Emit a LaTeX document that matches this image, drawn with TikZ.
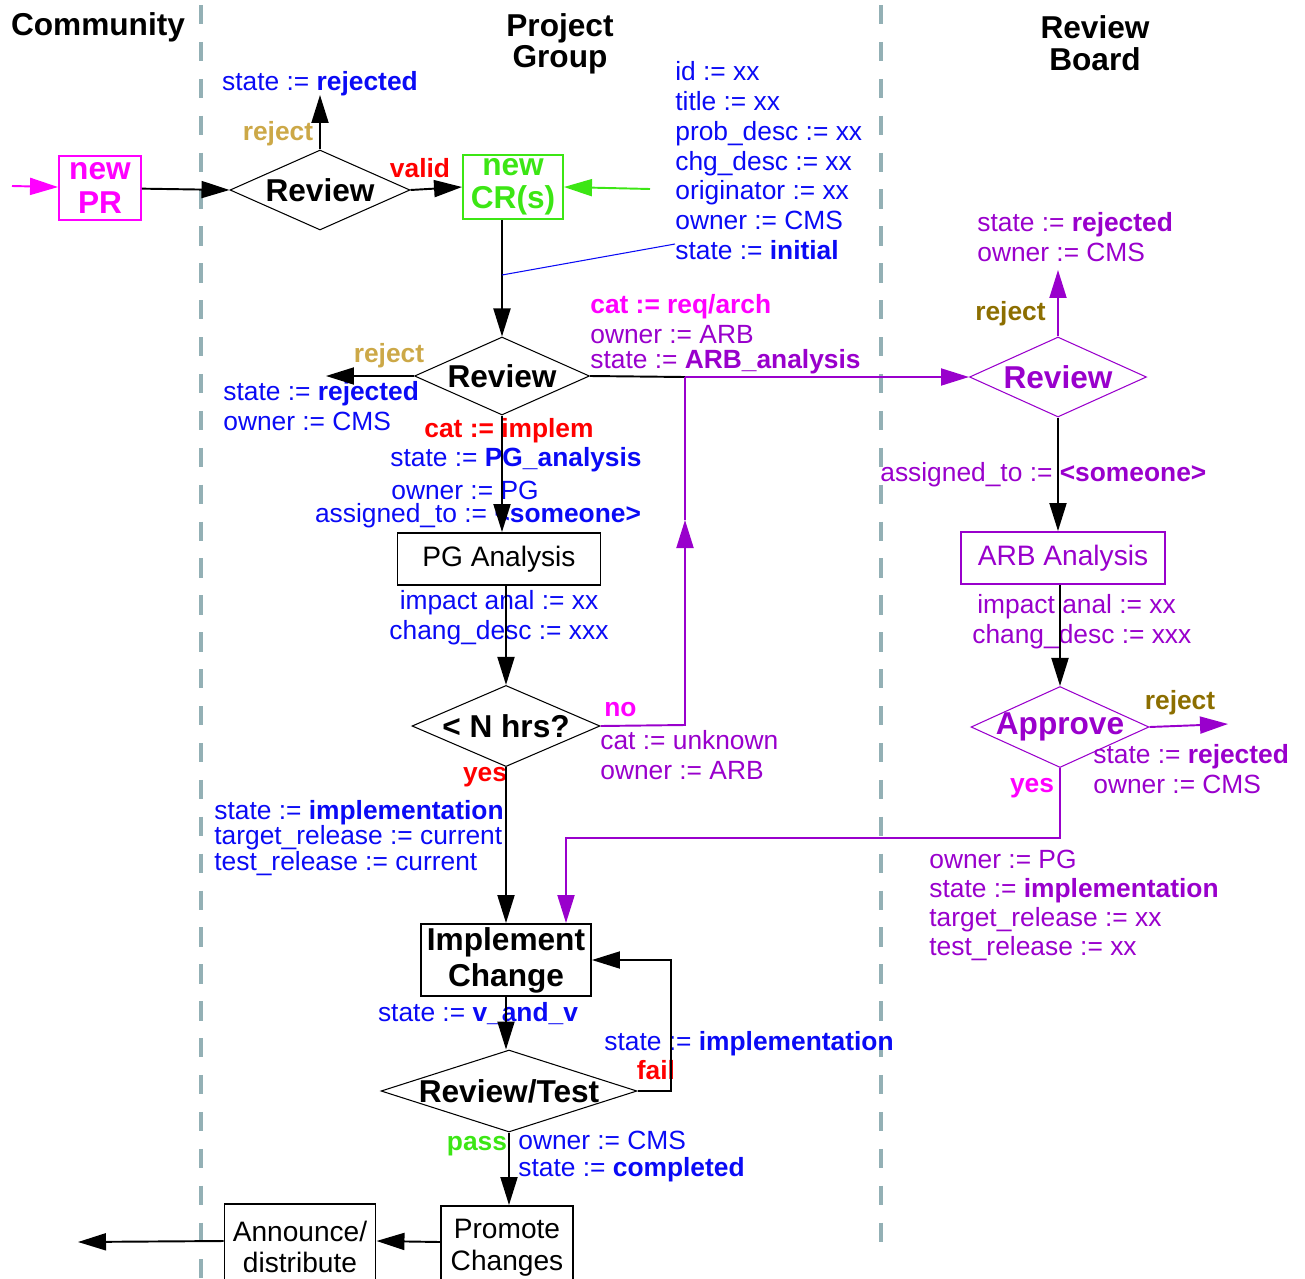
\documentclass[tikz,border=0pt]{standalone}
\usepackage{fontspec}
\setmainfont{Liberation Sans}
\usetikzlibrary{positioning, shapes.geometric, arrows.meta, calc}

\definecolor{purp}{RGB}{153,0,204}
\definecolor{prmag}{RGB}{255,0,255}
\definecolor{attrblue}{RGB}{10,10,245}
\definecolor{crgreen}{RGB}{60,230,20}
\definecolor{rejtan}{RGB}{204,168,71}
\definecolor{rejolive}{RGB}{140,110,0}
\definecolor{lanegray}{RGB}{147,176,181}

\tikzset{
  lane/.style={draw=lanegray, line width=2pt, dash pattern=on 11pt off 10pt},
  flow/.style={-{Triangle[length=0.56cm, width=0.34cm]}, line width=1.1pt},
  dec/.style={diamond, draw, line width=0.6pt, aspect=2.2, inner sep=0pt, font=\fontsize{18}{20}\selectfont\bfseries},
  box/.style={rectangle, draw, line width=1.1pt, inner sep=0pt, align=center, font=\fontsize{16}{18}\selectfont},
  head/.style={font=\fontsize{18}{20}\selectfont\bfseries, align=center, inner sep=0pt},
  lbl/.style={inner sep=0pt, font=\fontsize{15}{17}\selectfont},
  tag/.style={inner sep=0pt, font=\fontsize{15}{17}\selectfont\bfseries},
}

\begin{document}
\begin{tikzpicture}[x=0.02cm, y=-0.02cm]
  \useasboundingbox (0,0) rectangle (1305,1278);

  % Lanes
  \foreach \x/\e in {201/1278, 881/1245}
  \draw[lane] (\x,5) -- (\x,\e);
  \node[head] (comm) at (98,27) {Community};
  \node[head] (pgroup) at (560,44) {Project\\[-2pt]Group};
  \node[head] (rboard) at (1095,43) {Review\\[-2pt]Board};

  % Nodes
  \node[box, draw=prmag, text=prmag, minimum width=1.64cm, minimum height=1.28cm, font=\fontsize{18}{19}\selectfont\bfseries] (newpr) at (100,188) {new\\PR};
  \node[dec, minimum width=3.6cm, minimum height=1.6cm] (rev1) at (320,190) {Review};
  \node[box, draw=crgreen, text=crgreen, minimum width=2cm, minimum height=1.28cm, font=\fontsize{18}{19}\selectfont\bfseries] (newcr) at (513,187) {new\\CR(s)};
  \node[dec, minimum width=3.5cm, minimum height=1.56cm] (rev2) at (502,376) {Review};
  \node[box, minimum width=4.06cm, minimum height=1.04cm] (pga) at (499,559) {PG Analysis};
  \node[dec, minimum width=3.76cm, minimum height=1.54cm] (nhrs) at (506,726) {< N hrs?};
  \node[box, minimum width=3.4cm, minimum height=1.44cm, font=\fontsize{18}{20.5}\selectfont\bfseries] (impl) at (506,960) {Implement\\Change};
  \node[dec, aspect=3.1, minimum width=5.12cm, minimum height=1.64cm] (rt) at (509,1091) {Review/Test};
  \node[box, minimum width=2.64cm, minimum height=1.68cm] (promote) at (507,1248) {Promote\\Changes};
  \node[box, minimum width=3.02cm, minimum height=1.72cm] (announce) at (300,1247) {Announce/\\distribute};
  \node[dec, draw=purp, text=purp, minimum width=3.54cm, minimum height=1.6cm] (rev3) at (1058,377) {Review};
  \node[box, draw=purp, text=purp, minimum width=4.08cm, minimum height=1.04cm] (arb) at (1063,558) {ARB Analysis};
  \node[dec, draw=purp, text=purp, minimum width=3.56cm, minimum height=1.62cm] (approve) at (1060,727) {\makebox[0pt]{Approve}};

  % Labels
  \node[lbl, text=attrblue] (rej1) at (320,84) {state := \textbf{rejected}};
  \node[tag, text=rejtan] (rejl1) at (278,134) {reject};
  \node[tag, text=red] (valid) at (420,168) {valid};
  \node[lbl, text=attrblue, align=left, anchor=north west] (attrs) at (675,61) {id := xx\\title := xx\\prob\_desc := xx\\chg\_desc := xx\\originator := xx\\owner := CMS\\state := \textbf{initial}};
  \node[tag, text=rejtan] (rejl2) at (389,356) {reject};
  \node[lbl, text=attrblue, align=left, anchor=north west] (rej2txt) at (223,381) {state := \textbf{rejected}\\owner := CMS};
  \node[tag, text=red] (implem) at (509,431) {cat := implem};
  \node[lbl, text=attrblue] (pgstate) at (516,460) {state := \textbf{PG\_analysis}};
  \node[lbl, text=attrblue] (pgowner) at (465,490) {owner := PG};
  \node[lbl, text=attrblue] (pgassign) at (478,516) {assigned\_to := \textbf{<someone>}};
  \node[tag, text=prmag, anchor=west] (reqarch) at (590,307) {cat := req/arch};
  \node[lbl, text=purp, anchor=west] (arbown) at (590,335) {owner := ARB};
  \node[lbl, text=purp, anchor=west] (arbstate) at (590,362) {state := \textbf{ARB\_analysis}};
  \node[lbl, text=attrblue, align=center] (pgout) at (499,618) {impact anal := xx\\chang\_desc := xxx};
  \node[tag, text=prmag, anchor=west] (nolbl) at (604,710) {no};
  \node[lbl, text=purp, align=left, anchor=north west] (notxt) at (600,730) {cat := unknown\\owner := ARB};
  \node[tag, text=red] (yeslbl) at (485,777) {yes};
  \node[lbl, text=attrblue, align=left, anchor=north west, font=\fontsize{15}{14.5}\selectfont] (yestxt) at (214,800) {state := \textbf{implementation}\\target\_release := current\\test\_release := current};
  \node[lbl, text=attrblue] (vv) at (478,1014) {state := \textbf{v\_and\_v}};
  \node[lbl, text=attrblue, anchor=west] (backimpl) at (604,1044) {state := \textbf{implementation}};
  \node[tag, text=red] (faillbl) at (656,1070) {fail};
  \node[tag, text=crgreen] (passlbl) at (477,1146) {pass};
  \node[lbl, text=attrblue, align=left, anchor=north west, font=\fontsize{15}{15}\selectfont] (passtxt) at (518,1131) {owner := CMS\\state := \textbf{completed}};
  \node[lbl, text=purp, align=left, anchor=north west] (rej3txt) at (977,212) {state := \textbf{rejected}\\owner := CMS};
  \node[tag, text=rejolive, anchor=east] (rejl3) at (1046,314) {reject};
  \node[lbl, text=purp, anchor=west] (arbassign) at (880,475) {assigned\_to := \textbf{<someone>}};
  \node[lbl, text=purp, anchor=west] (arbimp) at (977,607) {impact anal := xx};
  \node[lbl, text=purp, anchor=west] (arbchg) at (972,637) {chang\_desc := xxx};
  \node[tag, text=rejolive] (rejl4) at (1180,703) {reject};
  \node[lbl, text=purp, align=left, anchor=north west] (rej4txt) at (1093,744) {state := \textbf{rejected}\\owner := CMS};
  \node[tag, text=prmag] (yes2) at (1032,788) {yes};
  \node[lbl, text=purp, align=left, anchor=north west, font=\fontsize{15}{16.5}\selectfont] (arbimpl) at (929,850) {owner := PG\\state := \textbf{implementation}\\target\_release := xx\\test\_release := xx};

  % Free ends and corners
  \coordinate (prin) at (12,186);
  \coordinate (rej1tip) at (320,95);
  \coordinate (crin) at (650,189);
  \coordinate (tie) at (502,275);
  \coordinate (initattr) at (675,244);
  \coordinate (rej2tip) at (326,376);
  \coordinate (jn) at (685,377);
  \coordinate (noup) at (685,520);
  \coordinate (nocorner) at (685,725);
  \coordinate (failx) at (671,1091);
  \coordinate (outtip) at (78,1242);
  \coordinate (rej3tip) at (1058,270);
  \coordinate (rej4tip) at (1228,724);
  \coordinate (yesdrop) at (566,838);

  % Arrows
  \draw[flow, prmag] (prin) -- (newpr);
  \draw[flow] (newpr) -- (rev1.west);
  \draw[flow] (rev1.north) -- (rej1tip);
  \draw[flow] (rev1.east) -- (newcr.west);
  \draw[flow, crgreen] (crin) -- (newcr.east);
  \draw[flow] (newcr.south -| rev2.north) -- (rev2.north);
  \draw[attrblue, line width=0.6pt] (tie) -- (initattr);
  \draw[flow] (rev2.west) -- (rej2tip);
  \draw[flow] (rev2.south) -- (pga.north -| rev2.south);
  \draw[line width=1.1pt] (rev2.east) -- (jn);
  \draw[flow, purp] (jn) -- (rev3.west);
  \draw[flow] (pga.south -| nhrs.north) -- (nhrs.north);
  \draw[flow, purp] (nhrs.east) -- (nocorner) -- (noup);
  \draw[purp, line width=1.1pt] (noup) -- (jn);
  \draw[flow] (nhrs.south) -- (impl.north -| nhrs.south);
  \draw[flow] (impl.south) -- (rt.north -| impl.south);
  \draw[flow] (rt.east) -- (failx) |- (impl.east);
  \draw[flow] (rt.south) -- (promote.north -| rt.south);
  \draw[flow] ([yshift=0.12cm]promote.west) -- ([yshift=0.12cm]announce.east);
  \draw[flow] ([yshift=0.12cm]announce.west) -- (outtip);
  \draw[flow, purp] (rev3.north) -- (rej3tip);
  \draw[flow] (rev3.south) -- (arb.north -| rev3.south);
  \draw[flow] (arb.south -| approve.north) -- (approve.north);
  \draw[flow, purp] (approve.east) -- (rej4tip);
  \draw[flow, purp] (approve.south) |- (yesdrop) -- (yesdrop |- impl.north);
\end{tikzpicture}
\end{document}
